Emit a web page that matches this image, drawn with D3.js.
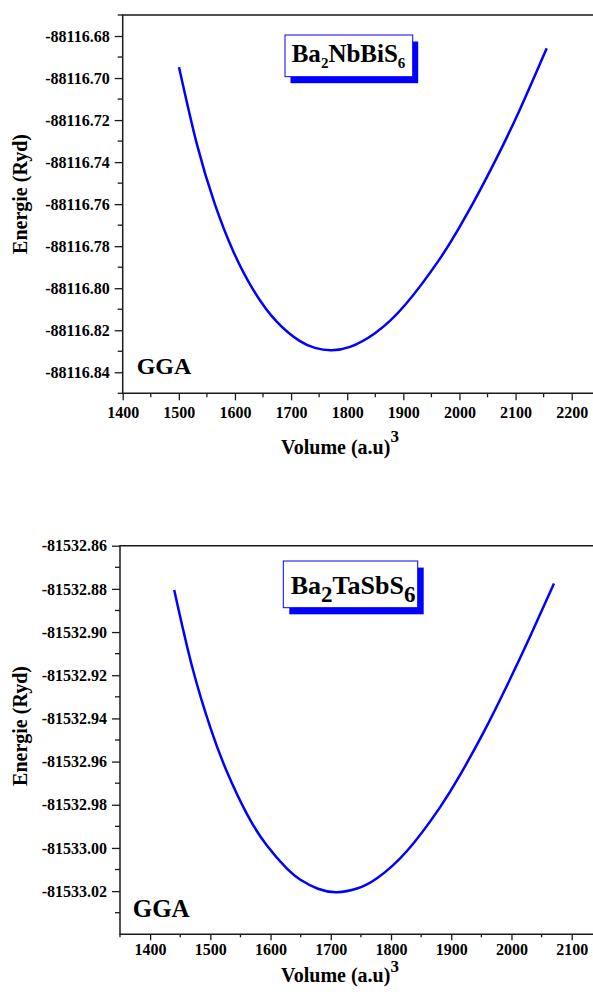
<!DOCTYPE html>
<html>
<head>
<meta charset="utf-8">
<script src="https://cdn.jsdelivr.net/npm/d3@7"></script>
<style>
  html, body { margin: 0; padding: 0; background: #fff; }
  svg { display: block; }
  text { font-family: "Liberation Serif", "Times New Roman", Times, serif; font-weight: bold; fill: #000; }
</style>
</head>
<body>
<script>
// Energy vs. volume curves (GGA) for two double perovskites

// Ba2NbBiS6
const volumesNb = [1500.3, 1532.4, 1564.5, 1597.1, 1632.7, 1674.4, 1715.9, 1742.6, 1770.1, 1805.0, 1849.5,
                   1903.0, 1965.3, 1995.1, 2024.7, 2066.4, 2107.9, 2155.5];
const energiesNb = [-88116.6948, -88116.7317, -88116.7602, -88116.7825, -88116.8008, -88116.8159, -88116.8252, -88116.8284,
                    -88116.8295, -88116.8279, -88116.8214, -88116.8080, -88116.7859, -88116.7732, -88116.7593, -88116.7380,
                    -88116.7148, -88116.6858];
const xTicksNb = [1400, 1500, 1600, 1700, 1800, 1900, 2000, 2100, 2200];
const yTicksNb = [-88116.84, -88116.82, -88116.80, -88116.78, -88116.76, -88116.74, -88116.72, -88116.70, -88116.68];

// Ba2TaSbS6
const volumesTa = [1440, 1470, 1500.6, 1527.2, 1560.4, 1593.6, 1626.8, 1648.9, 1678.7, 1710.3, 1743.5, 1776.7,
                   1826.5, 1881.3, 1914.5, 1953.2, 1992.0, 2030.7, 2070.6];
const energiesTa = [-81532.8805, -81532.9163, -81532.9447, -81532.9645, -81532.9841, -81532.9988, -81533.0095, -81533.0146,
                    -81533.0189, -81533.0205, -81533.0188, -81533.0140, -81533.0014, -81532.9812, -81532.9663, -81532.9467,
                    -81532.9251, -81532.9022, -81532.8775];
const xTicksTa = [1400, 1500, 1600, 1700, 1800, 1900, 2000, 2100];
const yTicksTa = [-81533.02, -81533.00, -81532.98, -81532.96, -81532.94, -81532.92, -81532.90, -81532.88, -81532.86];

const W = 593, H = 992;
const svg = d3.select("body").append("svg").attr("width", W).attr("height", H);
svg.append("rect").attr("width", W).attr("height", H).attr("fill", "#fff");

// plain hyphen for negative numbers
const fmt = v => d3.format(".2f")(v).replace("\u2212", "-");
const AXIS = "#1a1a1a";

function panel(cfg) {
  const g = svg.append("g");
  const x = d3.scaleLinear().domain(cfg.xDomain).range(cfg.xRange);
  const y = d3.scaleLinear().domain(cfg.yDomain).range(cfg.yRange);
  const left = cfg.xRange[0];
  const bottom = cfg.yRange[0];
  const top = cfg.yRange[1];

  // minor ticks halfway between the labelled ones
  const xMinor = cfg.xTicks.map(v => v - 50).concat(cfg.xTicks.map(v => v + 50))
    .filter((v, i, a) => a.indexOf(v) === i && x(v) >= left - 0.5 && x(v) <= W && !cfg.xTicks.includes(v));
  const yMinor = cfg.yTicks.map(v => +(v + 0.01).toFixed(2)).concat(cfg.yTicks.map(v => +(v - 0.01).toFixed(2)))
    .filter((v, i, a) => a.indexOf(v) === i && y(v) <= bottom + 0.5 && y(v) >= top - 0.5);

  // x axis
  const xAx = g.append("g").attr("transform", `translate(0,${bottom})`)
    .call(d3.axisBottom(x).tickValues(cfg.xTicks).tickFormat(d3.format("d"))
      .tickSize(cfg.xTickLen).tickPadding(cfg.xPad).tickSizeOuter(0));
  xAx.select(".domain").remove();
  xAx.selectAll("text").style("font-size", "16px");
  xAx.selectAll("line").attr("stroke", AXIS).attr("stroke-width", 1.3);
  g.append("g").selectAll("line").data(xMinor).join("line")
    .attr("x1", d => x(d)).attr("x2", d => x(d))
    .attr("y1", bottom).attr("y2", bottom + cfg.xTickLen - 3)
    .attr("stroke", AXIS).attr("stroke-width", 1.3);

  // y axis
  const yAx = g.append("g").attr("transform", `translate(${left},0)`)
    .call(d3.axisLeft(y).tickValues(cfg.yTicks).tickFormat(fmt)
      .tickSize(8).tickPadding(5).tickSizeOuter(0));
  yAx.select(".domain").remove();
  yAx.selectAll("text").style("font-size", "16px");
  yAx.selectAll("line").attr("stroke", AXIS).attr("stroke-width", 1.3);
  g.append("g").selectAll("line").data(yMinor).join("line")
    .attr("x1", left - 5).attr("x2", left)
    .attr("y1", d => y(d)).attr("y2", d => y(d))
    .attr("stroke", AXIS).attr("stroke-width", 1.3);

  // frame: left, bottom and top edges
  g.append("path")
    .attr("d", `M${W},${top}H${left}V${bottom}H${W}`)
    .attr("fill", "none").attr("stroke", AXIS).attr("stroke-width", 1.5);

  // energy curve
  const line = d3.line()
    .x((d, i) => x(cfg.vols[i]))
    .y(d => y(d))
    .curve(d3.curveNatural);
  g.append("path").datum(cfg.energies)
    .attr("d", line)
    .attr("fill", "none").attr("stroke", "#0000ff").attr("stroke-width", 2.5);

  // compound label box with offset shadow
  const b = cfg.box;
  g.append("rect").attr("x", b.x + b.dx).attr("y", b.y + b.dy).attr("width", b.w).attr("height", b.h).attr("fill", "#0000ff");
  g.append("rect").attr("x", b.x).attr("y", b.y).attr("width", b.w).attr("height", b.h)
    .attr("fill", "#fff").attr("stroke", "#0000ff").attr("stroke-width", 1);
  const t = g.append("text").attr("x", b.tx).attr("y", b.ty).style("font-size", b.fs + "px");
  cfg.formula.forEach(p => {
    if (p.sub) {
      t.append("tspan").attr("dy", b.sdy).style("font-size", b.sfs + "px").text(p.s);
    } else {
      t.append("tspan").attr("dy", p.after ? -b.sdy : 0).text(p.s);
    }
  });

  // method tag
  g.append("text").attr("x", cfg.gga.x).attr("y", cfg.gga.y).style("font-size", cfg.gga.fs + "px").text("GGA");

  // axis titles
  g.append("text")
    .attr("transform", `translate(${cfg.yTitle.x},${cfg.yTitle.y}) rotate(-90)`)
    .attr("text-anchor", "middle").style("font-size", "20px")
    .text("Energie (Ryd)");
  const xt = g.append("text").attr("x", cfg.xTitle.x).attr("y", cfg.xTitle.y)
    .attr("text-anchor", "middle").style("font-size", "20px");
  xt.append("tspan").text("Volume (a.u)");
  xt.append("tspan").attr("dy", cfg.xTitle.sup).style("font-size", "17px").text("3");
}

function formula(parts) {
  // parts: plain strings or [digit] for subscripts
  let prevSub = false;
  return parts.map(p => {
    const o = Array.isArray(p) ? { s: p[0], sub: true } : { s: p, sub: false, after: prevSub };
    prevSub = Array.isArray(p);
    return o;
  });
}

panel({
  vols: volumesNb, energies: energiesNb,
  xDomain: [1400, 2200], xRange: [122.7, 571.7],
  yDomain: [-88116.85, -88116.67], yRange: [393.3, 15],
  xTicks: xTicksNb, yTicks: yTicksNb,
  xTickLen: 7, xPad: 6,
  box: { x: 285, y: 35, w: 127.7, h: 41.7, dx: 5.5, dy: 6.5, tx: 291.7, ty: 61.7, fs: 25, sfs: 15, sdy: 6.5 },
  formula: formula(["Ba", ["2"], "NbBiS", ["6"]]),
  gga: { x: 136.7, y: 374, fs: 24 },
  yTitle: { x: 27, y: 194 },
  xTitle: { x: 340, y: 454, sup: -12 }
});

panel({
  vols: volumesTa, energies: energiesTa,
  xDomain: [1350, 2100], xRange: [120, 571.7],
  yDomain: [-81533.04, -81532.86], yRange: [934.3, 545.7],
  xTicks: xTicksTa, yTicks: yTicksTa,
  xTickLen: 6, xPad: 3,
  box: { x: 283.3, y: 561, w: 134.4, h: 46.7, dx: 6, dy: 6.6, tx: 290.7, ty: 594.3, fs: 26, sfs: 23, sdy: 8 },
  formula: formula(["Ba", ["2"], "TaSbS", ["6"]]),
  gga: { x: 132.7, y: 916.7, fs: 25 },
  yTitle: { x: 27, y: 726 },
  xTitle: { x: 340, y: 982, sup: -10 }
});
</script>
</body>
</html>
